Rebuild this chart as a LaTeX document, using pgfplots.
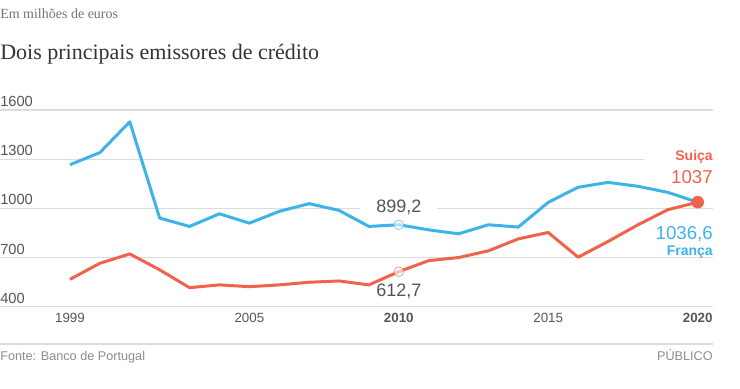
\documentclass[border=0pt]{standalone}
\usepackage{pgfplots}
\pgfplotsset{compat=1.18}
\usepackage{fontspec}
\setmainfont{Liberation Serif}
\newfontfamily\sans{Liberation Sans}
\definecolor{fr}{HTML}{3DB3E8}
\definecolor{ch}{HTML}{F0634A}
\definecolor{gridc}{HTML}{DCDCDC}
\definecolor{tickc}{HTML}{555555}
\begin{document}
\begin{tikzpicture}[x=0.75pt,y=0.75pt]
\useasboundingbox (0,0) rectangle (740,389);
\node[anchor=base west, inner sep=0, text=black!55] at (0,370) {\fontsize{10.5}{12}\selectfont Em milhões de euros};
\node[anchor=base west, inner sep=0, text=black!80] at (0,329) {\fontsize{16.5}{19}\selectfont Dois principais emissores de crédito};
\begin{axis}[
  at={(0pt,61.875pt)}, anchor=south west, scale only axis,
  width=534.75pt, height=147.375pt,
  xmin=1996.658, xmax=2020.512, ymin=400, ymax=1600,
  axis line style={draw=none}, major tick length=0pt,
  ymajorgrids, grid style={gridc, line width=0.8pt},
  ytick={400,700,1000,1300,1600},
  yticklabels={400,700,1000,1300,1600},
  xtick={1999,2005,2010,2015,2020},
  xticklabels={1999,2005,\textbf{2010},2015,\textbf{2020}},
  yticklabel style={anchor=base west, inner sep=0pt, yshift=2.5pt, font=\sans\fontsize{11}{13}\selectfont, text=tickc},
  xticklabel style={anchor=north, inner sep=0pt, yshift=-4.5pt, font=\sans\fontsize{10}{12}\selectfont, text=tickc},
  clip=false,
]
\addplot[fr, line width=2.25pt, line join=round] coordinates {
(1999,1266) (2000,1340) (2001,1528) (2002,940) (2003,889) (2004,966)
(2005,909) (2006,981) (2007,1028) (2008,987) (2009,889) (2010,899.2)
(2011,868) (2012,844) (2013,899) (2014,885) (2015,1036) (2016,1128)
(2017,1158) (2018,1134) (2019,1097) (2020,1036.6)};
\addplot[ch, line width=2.25pt, line join=round] coordinates {
(1999,566) (2000,664) (2001,721) (2002,624) (2003,515) (2004,532)
(2005,521) (2006,532) (2007,548) (2008,556) (2009,532) (2010,612.7)
(2011,680) (2012,699) (2013,740) (2014,813) (2015,852) (2016,701)
(2017,797) (2018,899) (2019,991) (2020,1037)};
\addplot[only marks, mark=*, mark size=3.6pt, mark options={draw=fr!70, fill=white, fill opacity=0.6, line width=0.5pt}] coordinates {(2010,899.2)};
\addplot[only marks, mark=*, mark size=3.6pt, mark options={draw=ch!70, fill=white, fill opacity=0.6, line width=0.5pt}] coordinates {(2010,612.7)};
\addplot[only marks, mark=*, mark size=4.5pt, mark options={draw=ch, fill=ch}] coordinates {(2020,1037)};
\node[fill=white, inner xsep=12pt, inner ysep=1pt, text=tickc, font=\sans\fontsize{13.5}{15}\selectfont, yshift=13.3pt] at (axis cs:2010,899.2) {899,2};
\node[inner sep=0pt, text=tickc, font=\sans\fontsize{13.5}{15}\selectfont, yshift=-15pt] at (axis cs:2010,612.7) {612,7};
\node[anchor=east, fill=white, text width=51.75pt, align=right, inner xsep=0pt, inner ysep=1pt, text=ch, font=\sans\bfseries\fontsize{10.5}{12}\selectfont, yshift=33.75pt] at (axis cs:2020.512,1037) {Suiça};
\node[anchor=east, inner sep=0pt, text=ch, font=\sans\fontsize{14}{16}\selectfont, yshift=18.75pt] at (axis cs:2020.512,1037) {1037};
\node[anchor=east, inner sep=0pt, text=fr, font=\sans\fontsize{14}{16}\selectfont, yshift=-23.7pt] at (axis cs:2020.512,1036.6) {1036,6};
\node[anchor=east, inner sep=0pt, text=fr, font=\sans\bfseries\fontsize{10.5}{12}\selectfont, yshift=-37.5pt] at (axis cs:2020.512,1036.6) {França};
\end{axis}
\draw[gridc, line width=0.8pt] (0,45) -- (713,45);
\node[anchor=base west, inner sep=0, text=black!45, font=\sans\fontsize{9.5}{11}\selectfont] at (0,28) {Fonte: Banco de Portugal};
\node[anchor=base east, inner sep=0, text=black!45, font=\sans\fontsize{9.5}{11}\selectfont] at (713,28) {PÚBLICO};
\end{tikzpicture}
\end{document}
